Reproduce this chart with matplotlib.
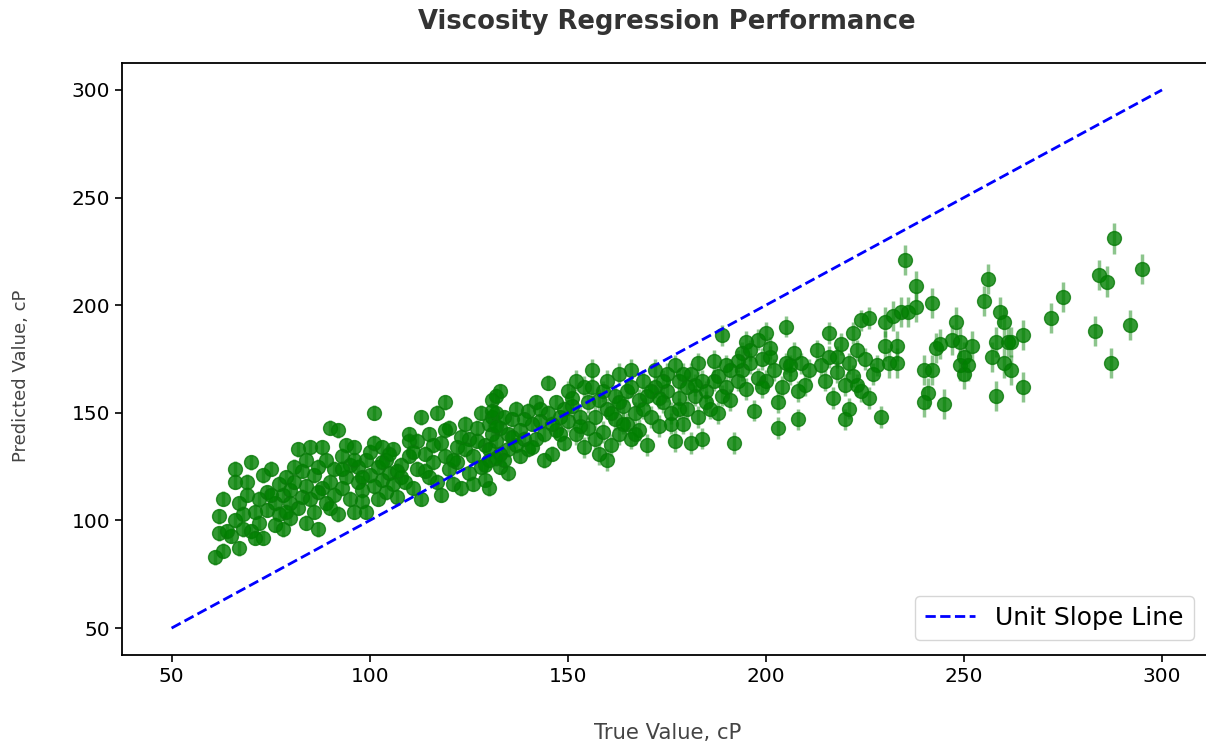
import numpy as np
import matplotlib.pyplot as plt

# true / predicted viscosity (cP), grouped by range; each group has its own spread
true_low = [61, 63, 62, 62, 63, 65, 66, 66, 66, 67, 67, 68, 68, 69, 70, 70, 71, 72, 72, 73,
            73, 74, 74, 75, 76, 76, 77, 77, 78, 78, 79, 80, 80, 80, 81, 82, 82, 83, 83, 84,
            84, 85, 85, 86, 86, 87, 87, 88, 88, 89, 89, 90, 90, 91, 91, 92, 92, 93, 93, 94,
            95, 95, 96, 96, 97, 97, 98, 98, 99, 100, 100, 101, 101, 102, 102, 103, 103, 104, 104, 105,
            106, 106, 107, 108, 108, 110, 110, 111, 112, 112, 113, 113, 114, 115, 115, 116, 117, 117, 118, 118,
            119, 119, 120, 120, 121, 122, 122, 123, 124, 125, 125, 126, 126, 127, 128, 128, 129, 129, 130, 130,
            131, 131, 131, 132, 132, 132, 133, 133, 133, 134, 135, 135, 136, 137, 138, 138, 139, 140, 140, 141,
            142, 142, 143, 144, 144, 145, 145, 146, 147, 147, 148, 149,
            64, 69, 71, 75, 79, 81, 84, 87, 90, 93, 94, 96, 98, 99, 101, 103, 105, 107, 109, 110,
            111, 114, 116, 119, 121, 123, 124, 127, 129, 130, 130, 131, 132, 132, 133, 134, 135, 136, 137, 139,
            141, 143, 146, 148, 149]
pred_low = [83, 86, 94, 102, 110, 93, 100, 118, 124, 87, 108, 96, 103, 112, 95, 127, 104, 110, 99, 92,
            121, 113, 105, 124, 98, 108, 117, 103, 112, 96, 120, 108, 114, 101, 118, 133, 106, 111, 123, 99,
            116, 134, 110, 121, 104, 125, 96, 115, 134, 108, 128, 118, 143, 124, 112, 103, 142, 130, 115, 120,
            126, 110, 134, 104, 118, 125, 114, 109, 128, 121, 132, 150, 116, 125, 110, 134, 119, 128, 113, 122,
            117, 133, 111, 126, 120, 140, 130, 115, 137, 124, 110, 148, 131, 120, 140, 127, 118, 150, 136, 112,
            130, 155, 124, 143, 117, 134, 127, 115, 145, 122, 138, 130, 117, 143, 125, 150, 135, 119, 115, 128,
            140, 148, 156, 137, 150, 158, 125, 131, 143, 128, 140, 133, 147, 152, 130, 142, 138, 151, 133, 145,
            138, 155, 146, 128, 140, 164, 150, 131, 142, 155, 148, 136,
            95, 118, 92, 112, 104, 125, 128, 113, 106, 124, 135, 128, 120, 104, 136, 127, 131, 123, 118, 137,
            132, 123, 135, 142, 128, 139, 133, 137, 126, 133, 145, 151, 144, 129, 160, 148, 122, 139, 135, 147,
            134, 152, 145, 140, 152]
err_low = 3.5

true_mid = [150, 150, 151, 152, 152, 153, 154, 155, 155, 156, 156, 157, 158, 158, 159, 160, 160, 160, 161, 162,
            162, 163, 163, 164, 165, 165, 166, 166, 167, 168, 168, 169, 170, 170, 171, 172, 172, 173, 174, 175,
            175, 176, 177, 177, 178, 178, 179, 180, 180, 181, 181, 182, 183, 183, 184, 184, 185, 186, 187, 188,
            188, 189, 190, 190, 191, 192, 193, 194, 194, 195, 195, 196, 197, 198, 198, 199, 200, 200, 201, 202,
            203, 203, 204, 205, 205, 206, 207, 208, 208, 209, 210, 213, 214, 215, 216, 216, 217, 218, 219, 220,
            220, 221, 221, 222, 222, 223, 224, 224, 225, 226, 226, 227, 228, 229,
            151, 153, 154, 157, 159, 161, 163, 164, 166, 167, 169, 171, 173, 174, 176, 178, 179, 182, 185, 187,
            189, 191, 193, 196, 199, 201, 206, 211, 218, 223]
pred_mid = [160, 146, 153, 140, 165, 148, 134, 155, 143, 162, 170, 148, 131, 156, 141, 152, 128, 165, 135, 147,
            158, 168, 140, 153, 160, 145, 138, 170, 150, 156, 142, 165, 135, 158, 148, 170, 162, 144, 155, 160,
            168, 150, 137, 172, 157, 165, 145, 162, 152, 168, 136, 158, 173, 148, 138, 165, 160, 152, 174, 150,
            167, 186, 162, 172, 156, 136, 165, 178, 170, 161, 183, 173, 151, 184, 166, 175, 187, 165, 180, 170,
            143, 155, 162, 190, 173, 168, 178, 160, 147, 173, 163, 179, 172, 165, 176, 187, 157, 169, 182, 147,
            163, 152, 173, 187, 167, 179, 193, 160, 175, 194, 157, 168, 172, 148,
            157, 144, 162, 138, 160, 150, 155, 145, 162, 140, 152, 160, 157, 165, 145, 152, 168, 163, 155, 165,
            158, 170, 174, 179, 162, 176, 172, 170, 176, 163]
err_mid = 5.0

true_high = [230, 230, 231, 232, 233, 233, 234, 235, 236, 238, 238, 240, 240, 241, 242, 242, 243, 244, 245, 247,
             248, 249, 249, 250, 250, 251, 252, 255, 256, 257, 258, 258, 259, 260, 260, 261, 262, 262, 265, 265,
             272, 275, 283, 284, 286, 287, 288, 292, 295]
pred_high = [181, 192, 173, 195, 173, 181, 197, 221, 197, 199, 209, 155, 170, 159, 201, 170, 180, 182, 154, 184,
             192, 183, 172, 176, 168, 172, 181, 202, 212, 176, 158, 183, 197, 192, 173, 183, 170, 183, 186, 162,
             194, 204, 188, 214, 211, 173, 231, 191, 217]
err_high = 7.0

line_x = [50, 300]

fig, ax = plt.subplots(figsize=(12.06, 7.44), dpi=100)
fig.subplots_adjust(left=0.1012, right=1.0046, top=0.9153, bottom=0.1196)

for tx, py, e in [(true_low, pred_low, err_low), (true_mid, pred_mid, err_mid),
                  (true_high, pred_high, err_high)]:
    ax.errorbar(tx, py, yerr=e, fmt='none', ecolor='green', alpha=0.45,
                elinewidth=2.5, zorder=2)
    ax.plot(tx, py, 'o', color='green', alpha=0.8, markersize=10,
            markeredgecolor='#0a7a0a', markeredgewidth=1, zorder=3)

ax.plot(line_x, line_x, '--', color='blue', linewidth=2, label='Unit Slope Line', zorder=4)

ax.set_xlim(37.5, 312.5)
ax.set_ylim(37.5, 312.5)
ax.set_xticks([50, 100, 150, 200, 250, 300])
ax.set_yticks([50, 100, 150, 200, 250, 300])
ax.tick_params(labelsize=14.5, length=5, width=1.2)
for s in ax.spines.values():
    s.set_linewidth(1.3)

ax.legend(loc='lower right', fontsize=18, handlelength=2.0, borderpad=0.4,
          bbox_to_anchor=(0.995, 0.005))

fig.text(0.553, 0.970, 'Viscosity Regression Performance', ha='center', va='center',
         fontsize=18.6, fontweight='bold', color='#333333')
fig.text(0.554, 0.0148, 'True Value, cP', ha='center', va='center', fontsize=15.2, color='#444444')
fig.text(0.017, 0.4946, 'Predicted Value, cP', ha='center', va='center', rotation=90,
         fontsize=13, color='#444444')

fig.savefig('out.png', dpi=100)
